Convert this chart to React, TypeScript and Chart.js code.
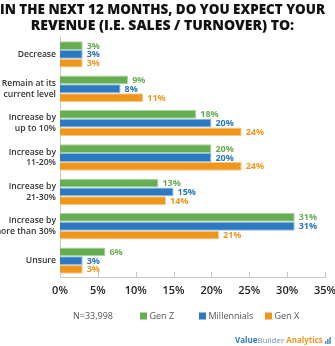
import React, { useEffect, useRef } from "react";
import { Chart, registerables } from "chart.js";

Chart.register(...registerables);

const categories: (string | string[])[] = [
  "Decrease",
  ["Remain at its", "current level"],
  ["Increase by", "up to 10%"],
  ["Increase by", "11-20%"],
  ["Increase by", "21-30%"],
  ["Increase by", "more than 30%"],
  "Unsure",
];
const genZ = [3, 9, 18, 20, 13, 31, 6];
const millennials = [3, 8, 20, 20, 15, 31, 3];
const genX = [3, 11, 24, 24, 14, 21, 3];
const seriesNames = ["Gen Z", "Millennials", "Gen X"];
const xTicks = [0, 5, 10, 15, 20, 25, 30, 35];
const sampleNote = "N=33,998";
const titleLines = ["IN THE NEXT 12 MONTHS, DO YOU EXPECT YOUR", "REVENUE (I.E. SALES / TURNOVER) TO:"];

const COLORS = ["#67ae52", "#2a79c1", "#ef961d"];
const BORDERS = ["#a9d39a", "#8dbbe6", "#f7c98c"];
const FONT = "'Open Sans', 'DejaVu Sans', sans-serif";

const valueLabels = {
  id: "valueLabels",
  afterDatasetsDraw(chart: any) {
    const ctx = chart.ctx;
    ctx.save();
    ctx.font = `bold 9px ${FONT}`;
    ctx.textBaseline = "middle";
    ctx.textAlign = "left";
    chart.data.datasets.forEach((ds: any, i: number) => {
      const meta = chart.getDatasetMeta(i);
      ctx.fillStyle = COLORS[i];
      meta.data.forEach((bar: any, j: number) => {
        ctx.fillText(ds.data[j] + "%", bar.x + 4, bar.y + 0.5);
      });
    });
    ctx.restore();
  },
};

const upTicks = {
  id: "upTicks",
  afterDraw(chart: any) {
    const ctx = chart.ctx;
    const xs = chart.scales.x;
    const bottom = chart.chartArea.bottom;
    ctx.save();
    ctx.strokeStyle = "#c8c8c8";
    ctx.lineWidth = 1;
    xTicks.forEach((t) => {
      const px = Math.round(xs.getPixelForValue(t)) + 0.5;
      ctx.beginPath();
      ctx.moveTo(px, bottom - 6);
      ctx.lineTo(px, bottom);
      ctx.stroke();
    });
    ctx.restore();
  },
};

const customLegend = {
  id: "customLegend",
  afterDraw(chart: any) {
    const ctx = chart.ctx;
    const y = 316;
    ctx.save();
    ctx.font = `9px ${FONT}`;
    ctx.textBaseline = "middle";
    ctx.textAlign = "left";
    ctx.fillStyle = "#555";
    ctx.fillText(sampleNote, 73, y);
    const starts = [140, 199, 265];
    chart.data.datasets.forEach((ds: any, i: number) => {
      ctx.fillStyle = COLORS[i];
      ctx.fillRect(starts[i], y - 3.5, 7, 7);
      ctx.fillStyle = "#555";
      ctx.fillText(ds.label, starts[i] + 9.5, y);
    });
    // brand line
    const by = 341;
    let x = 235;
    ctx.font = `bold 8px ${FONT}`;
    ctx.fillStyle = "#2a79c1";
    ctx.fillText("Value", x, by);
    x += ctx.measureText("Value").width;
    ctx.font = `8px ${FONT}`;
    ctx.fillStyle = "#6f92bb";
    ctx.fillText("Builder", x, by);
    x += ctx.measureText("Builder").width + 2;
    ctx.font = `bold 8px ${FONT}`;
    ctx.fillStyle = "#ef961d";
    ctx.fillText("Analytics", x, by);
    x += ctx.measureText("Analytics").width + 2;
    ctx.fillStyle = "#5b8fca";
    [3, 5, 7].forEach((h, k) => ctx.fillRect(x + k * 2.2, by + 3 - h, 1.6, h));
    ctx.restore();
  },
};

export default function App() {
  const ref = useRef<HTMLCanvasElement | null>(null);
  useEffect(() => {
    if (!ref.current) return;
    const data = [genZ, millennials, genX];
    const chart = new Chart(ref.current, {
      type: "bar",
      data: {
        labels: categories,
        datasets: data.map((d, i) => ({
          label: seriesNames[i],
          data: d,
          backgroundColor: COLORS[i],
          borderColor: BORDERS[i],
          borderWidth: 1,
          categoryPercentage: 0.77,
          barPercentage: 1,
        })),
      },
      options: {
        indexAxis: "y",
        animation: false,
        responsive: false,
        maintainAspectRatio: false,
        layout: { padding: { left: 0, right: 10, top: 0, bottom: 43 } },
        plugins: {
          legend: { display: false },
          tooltip: { enabled: false },
          title: {
            display: true,
            text: titleLines,
            color: "#111",
            font: { family: FONT, size: 14, weight: "800", lineHeight: 1.15 },
            padding: { top: 2, bottom: 3 },
          },
        },
        scales: {
          x: {
            min: 0,
            max: 35,
            grid: { display: false, drawTicks: false },
            border: { display: true, color: "#c8c8c8" },
            afterBuildTicks: (s: any) => {
              s.ticks = xTicks.map((v) => ({ value: v }));
            },
            afterFit: (s: any) => {
              s.paddingRight = 0;
              s.paddingLeft = 0;
            },
            ticks: {
              padding: 6,
              color: "#222",
              font: { family: FONT, size: 11, weight: "600" },
              callback: (v: any) => v + "%",
            },
          },
          y: {
            grid: { display: false, drawTicks: false },
            border: { display: true, color: "#c8c8c8" },
            afterFit: (s: any) => {
              s.width = 60;
            },
            ticks: {
              padding: 4,
              color: "#333",
              font: { family: FONT, size: 8.6, weight: "600", lineHeight: 1.25 },
            },
          },
        },
      },
      plugins: [valueLabels, upTicks, customLegend],
    });
    return () => chart.destroy();
  }, []);
  return (
    <div style={{ position: "fixed", left: 0, top: 0, width: 335, height: 346, background: "#fff" }}>
      <canvas ref={ref} width={335} height={346} style={{ display: "block" }} />
    </div>
  );
}
